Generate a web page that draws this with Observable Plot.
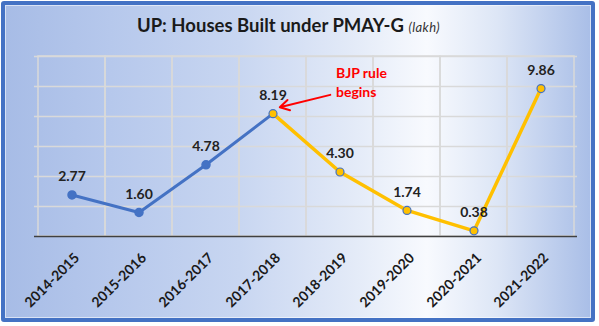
<!DOCTYPE html>
<html><head><meta charset="utf-8">
<script src="https://cdn.jsdelivr.net/npm/d3@7"></script>
<script src="https://cdn.jsdelivr.net/npm/@observablehq/plot@0.6"></script>
<style>
body{margin:0;background:#fff;}
#wrap{position:relative;width:599px;height:326px;font-family:Lato,sans-serif;overflow:hidden;}
#frame{position:absolute;left:1px;top:1px;width:594px;height:321px;box-sizing:border-box;border:4px solid #4472c4;border-radius:3px;
 background:linear-gradient(to right,#a7bce6 0%,#b6c8ec 18%,#c8d6f1 40%,#e4ebf8 60%,#f8fafe 72%,#dde6f6 84%,#a9bee7 100%);
 box-shadow:inset 0 0 0 1px rgba(255,255,255,0.55);}
#title{position:absolute;left:0;top:15px;width:577px;text-align:center;line-height:20px;font-size:18.5px;font-weight:700;color:#1a1a1a;white-space:nowrap;}
#title i{font-weight:400;font-size:13px;letter-spacing:0.4px;color:#333;}
#chart{position:absolute;left:0;top:0;}
#chart svg{background:transparent;}
</style></head>
<body>
<div id="wrap"><div id="frame"></div><div id="title">UP: Houses Built under PMAY-G <i>(lakh)</i></div><div id="chart"></div></div>
<script>
const years = ["2014-2015","2015-2016","2016-2017","2017-2018","2018-2019","2019-2020","2020-2021","2021-2022"];
const values = [2.77, 1.60, 4.78, 8.19, 4.30, 1.74, 0.38, 9.86];
const gridValues = [2, 4, 6, 8, 10, 12];
const annotationText = ["BJP rule\nbegins"];
const annotationYear = "2018-2019";
const ruleStartYear = "2017-2018";

const data = years.map((year, i) => ({year, value: values[i]}));
const startIndex = years.indexOf(ruleStartYear);
const before = data.slice(0, startIndex + 1);
const after = data.slice(startIndex);
const beforeDots = data.slice(0, startIndex);

const blue = "#4472c4", gold = "#ffc000", grid = "#d9d9d9";

const chart = Plot.plot({
  width: 599, height: 326,
  marginLeft: 34, marginRight: 22, marginTop: 56, marginBottom: 90,
  style: {background: "transparent", fontFamily: "Lato, sans-serif"},
  x: {type: "band", domain: years, padding: 0, axis: null},
  y: {domain: [0, 12], axis: null},
  marks: [
    Plot.barY(years, {x: d => d, y1: 0, y2: 12, fill: "none", stroke: grid, strokeWidth: 1.5}),
    Plot.ruleY(gridValues, {stroke: grid, strokeWidth: 1.5}),
    Plot.ruleY([0], {stroke: "#404040", strokeWidth: 1.5}),
    Plot.text(years, {x: d => d, y: 0, text: d => d, rotate: -45, textAnchor: "end", lineAnchor: "middle", dx: 5, dy: 19, fontSize: 14, fontWeight: 700, fill: "#1a1a1a"}),
    Plot.line(before, {x: "year", y: "value", stroke: blue, strokeWidth: 3}),
    Plot.line(after, {x: "year", y: "value", stroke: gold, strokeWidth: 3.5}),
    Plot.dot(beforeDots, {x: "year", y: "value", r: 4, fill: blue, stroke: blue}),
    Plot.dot(after, {x: "year", y: "value", r: 4, fill: gold, stroke: blue, strokeWidth: 1.2}),
    Plot.text(data, {x: "year", y: "value", text: d => d.value.toFixed(2), dy: -18, fontSize: 14, fontWeight: 700, fill: "#222"}),
    Plot.text(annotationText, {x: () => annotationYear, y: () => 10.35, text: d => d, textAnchor: "start", dx: -4, fontSize: 14, fontWeight: 700, fill: "#ff0000", lineHeight: 1.35}),
    Plot.arrow([{x1: annotationYear, y1: 9.6, x2: ruleStartYear, y2: 8.5}], {x1: "x1", y1: "y1", x2: "x2", y2: "y2", stroke: "#ff0000", strokeWidth: 2, bend: 0, headLength: 8, insetStart: 10, insetEnd: 7})
  ]
});
document.getElementById("chart").appendChild(chart);
</script>
</body></html>
